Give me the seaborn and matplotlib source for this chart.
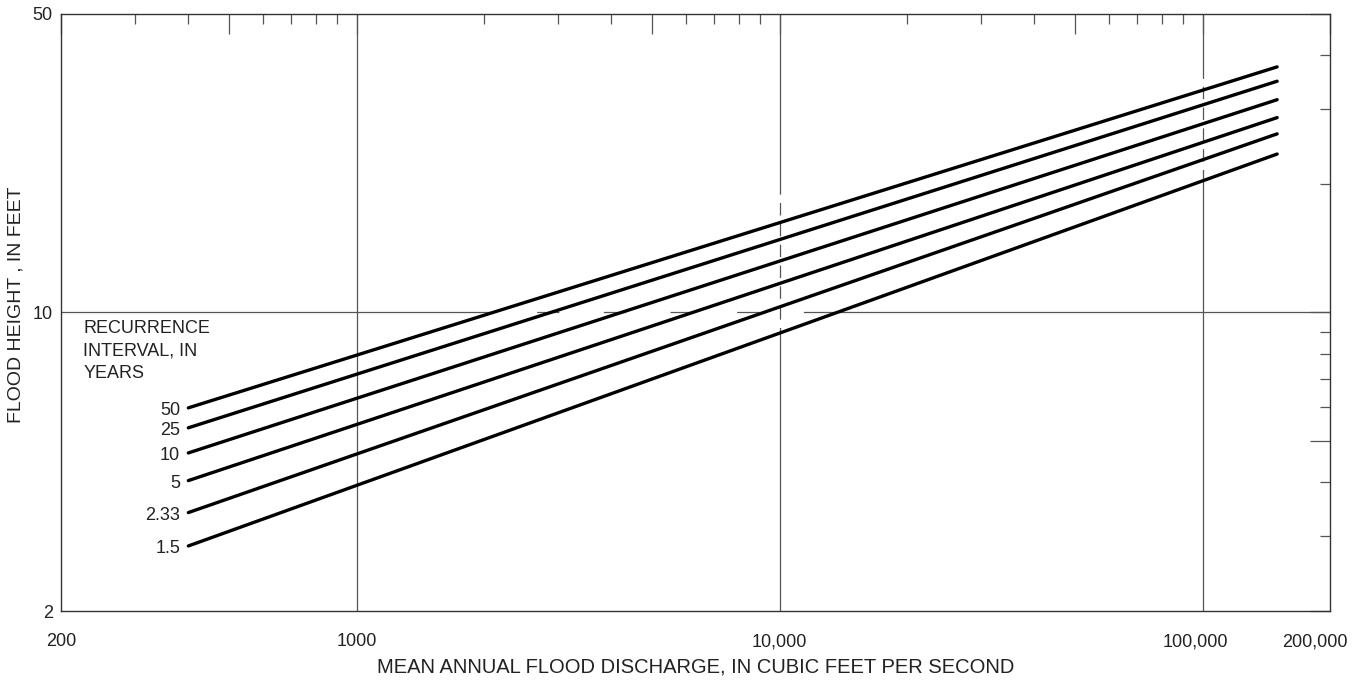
import numpy as np
import pandas as pd
import matplotlib
matplotlib.use('Agg')
import matplotlib.pyplot as plt
import matplotlib.transforms as mtransforms
import seaborn as sns

# ------------------------------------------------------------
# Data (log-log, straight lines)
# ------------------------------------------------------------
INTERVALS = ['50', '25', '10', '5', '2.33', '1.5']
Q_START = 400
Q_END = 150000
H_START = [5.98, 5.37, 4.69, 4.04, 3.40, 2.84]
H_END = [37.6, 34.8, 31.5, 28.6, 26.2, 23.5]

X_MAJOR = [200, 500, 1000, 5000, 10000, 50000, 100000, 200000]
X_MAJOR_LABELS = ['200', '', '1000', '', '10,000', '', '100,000', '200,000']
X_MINOR = [300, 400, 600, 700, 800, 900,
           2000, 3000, 4000, 6000, 7000, 8000, 9000,
           20000, 30000, 40000, 60000, 70000, 80000, 90000]
Y_MAJOR = [2, 5, 10, 50]
Y_MAJOR_LABELS = ['2', '', '10', '50']
Y_MINOR = [3, 4, 6, 7, 8, 9, 20, 30, 40]

rows = []
for lab, h0, h1 in zip(INTERVALS, H_START, H_END):
    rows.append({'interval': lab, 'discharge': Q_START, 'height': h0})
    rows.append({'interval': lab, 'discharge': Q_END, 'height': h1})
df = pd.DataFrame(rows)

# ------------------------------------------------------------
# Style
# ------------------------------------------------------------
sns.set_style('white')
plt.rcParams['font.family'] = ['Liberation Sans', 'DejaVu Sans']
INK = '#222222'
GRID = '#555555'

fig = plt.figure(figsize=(13.62, 6.84), dpi=100)
ax = fig.add_axes([61 / 1362, 1 - 611 / 684, 1269 / 1362, 597 / 684])
ax.set_xscale('log')
ax.set_yscale('log')
ax.set_xlim(200, 200000)
ax.set_ylim(2, 50)

# gridlines (with the dashed stretches seen in the scan)
GW = 0.9


def vgrid(x, dash=None):
    if dash is None:
        ax.plot([x, x], [2, 50], color=GRID, lw=GW, zorder=1)
        return
    lo, hi = dash
    ax.plot([x, x], [2, lo], color=GRID, lw=GW, zorder=1)
    ax.plot([x, x], [lo, hi], color=GRID, lw=GW, zorder=1,
            linestyle=(0, (9 / GW, 6 / GW)))
    ax.plot([x, x], [hi, 50], color=GRID, lw=GW, zorder=1)


def hgrid(y, dash=None):
    lo, hi = dash
    ax.plot([200, lo], [y, y], color=GRID, lw=GW, zorder=1)
    ax.plot([lo, hi], [y, y], color=GRID, lw=GW, zorder=1,
            linestyle=(0, (16 / GW, 32 / GW)))
    ax.plot([hi, 200000], [y, y], color=GRID, lw=GW, zorder=1)


vgrid(1000)
vgrid(10000, dash=(8.6, 19.0))
vgrid(100000, dash=(20.2, 35.5))
hgrid(10, dash=(1850, 12100))

sns.lineplot(data=df, x='discharge', y='height', hue='interval',
             palette=['black'] * len(INTERVALS), linewidth=2.4,
             legend=False, ax=ax, zorder=3)

for lab, h0 in zip(INTERVALS, H_START):
    ax.annotate(lab, xy=(Q_START, h0), xytext=(-6, -2),
                textcoords='offset points', ha='right', va='center',
                fontsize=13, color=INK)

ax.text(0.0175, 0.4355, 'RECURRENCE\nINTERVAL, IN\nYEARS',
        transform=ax.transAxes, ha='left', va='center',
        fontsize=13, linespacing=1.45, color=INK)

# ticks on all four sides, pointing in
ax.set_xticks(X_MAJOR)
ax.set_xticklabels(X_MAJOR_LABELS)
ax.set_xticks(X_MINOR, minor=True)
ax.set_xticklabels([], minor=True)
ax.set_yticks(Y_MAJOR)
ax.set_yticklabels(Y_MAJOR_LABELS)
ax.set_yticks(Y_MINOR, minor=True)
ax.set_yticklabels([], minor=True)

ax.tick_params(which='both', direction='in', top=True, right=True,
               color=GRID, width=0.9, labelcolor=INK, labelsize=13)
ax.tick_params(which='major', length=14.5)
ax.tick_params(which='minor', length=7.5)
ax.tick_params(axis='x', which='major', pad=16)
ax.tick_params(axis='y', which='major', pad=6)

# nudge the two right-hand x labels inward, as printed
xlabels = ax.get_xticklabels()
for i, dx in [(6, -7), (7, -15)]:
    off = mtransforms.ScaledTranslation(dx / 100, 0, fig.dpi_scale_trans)
    xlabels[i].set_transform(xlabels[i].get_transform() + off)

for sp in ax.spines.values():
    sp.set_color('#333333')
    sp.set_linewidth(1.0)

ax.set_xlabel('MEAN ANNUAL FLOOD DISCHARGE, IN CUBIC FEET PER SECOND',
              fontsize=14.5, color=INK)
ax.xaxis.set_label_coords(0.5, -0.078)
ax.set_ylabel('FLOOD HEIGHT , IN FEET', fontsize=14, color=INK)
ax.yaxis.set_label_coords(-0.029, 0.513)

fig.savefig('out.png', dpi=100, facecolor='white')
